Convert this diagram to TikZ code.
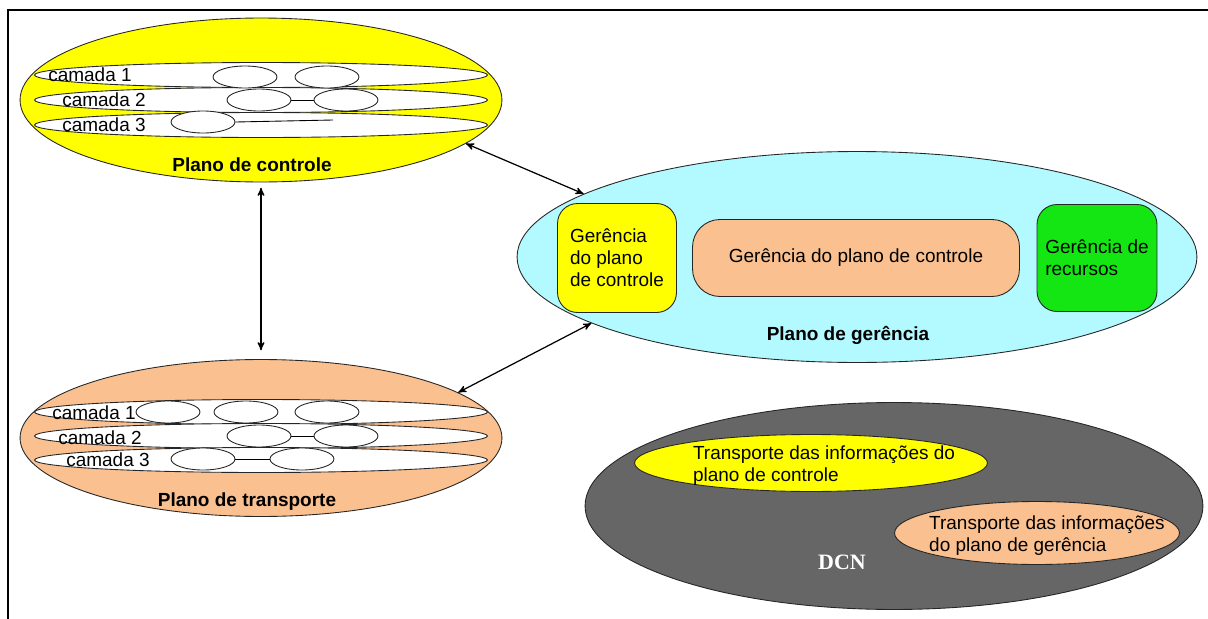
\documentclass[tikz,border=0pt]{standalone}
\usepackage{fontspec}
\setmainfont{Liberation Sans}
\newfontfamily\dcnfont{Liberation Serif}
\usepackage{tikz}
\usetikzlibrary{arrows,shapes,calc}
\usetikzlibrary{positioning}
\definecolor{ctrlyellow}{RGB}{255,255,0}
\definecolor{transorange}{RGB}{250,192,143}
\definecolor{mgmtcyan}{RGB}{178,250,255}
\definecolor{resgreen}{RGB}{20,230,20}
\definecolor{dcngray}{RGB}{102,102,102}
\tikzset{
    plane/.style={
           ellipse,
           draw=black!85, line width=0.5pt,
           inner sep=0pt,
           },
    layer/.style={
           ellipse,
           draw=black!85, line width=0.5pt,
           fill=white,
           inner sep=0pt,
           minimum width=9.06cm,
           minimum height=0.5cm,
           },
    elem/.style={
           ellipse,
           draw=black!85, line width=0.5pt,
           fill=white,
           inner sep=0pt,
           minimum width=1.28cm,
           minimum height=0.44cm,
           },
    mbox/.style={
           rectangle,
           draw=black!85, line width=0.5pt,
           inner sep=0pt,
           align=left,
           },
    lbl/.style={
           anchor=west,
           inner sep=0pt,
           },
    title/.style={
           font=\fontsize{10.8}{12.6}\selectfont\bfseries,
           inner sep=0pt,
           },
    pil/.style={
           <->,
           line width=0.7pt,}
}

\begin{document}
\begin{tikzpicture}[x=0.02cm,y=-0.02cm,>=stealth',
    every node/.append style={font=\fontsize{10.8}{12.6}\selectfont}]
\useasboundingbox (0,0) rectangle (1208,619);
% FRAME
\draw[line width=1.6pt] (8,619) -- (8,10) -- (1208,10);
% Position of control plane (CONTROL)
\node[plane,
fill = ctrlyellow,
minimum width = 9.64cm,
minimum height = 3.28cm] (CONTROL) at (261,100) {};
\node[layer] (CL1) at (261,75) {};
\node[layer] (CL2) at (261,100) {};
\node[layer] (CL3) at (261,125) {};
\node[lbl] (CT1) at (48,75) {camada 1};
\node[lbl] (CT2) at (62,100) {camada 2};
\node[lbl] (CT3) at (62,125) {camada 3};
\node[elem] (C11) at (245,77) {};
\node[elem, right of = C11, node distance = 1.64cm] (C12) {};
\node[elem] (C21) at (259,100) {};
\node[elem, right of = C21, node distance = 1.74cm] (C22) {};
\node[elem] (C31) at (203,122) {};
\coordinate (C3END) at (333,120);
\draw[line width=0.5pt] (C21) -- (C22);
\draw[line width=0.5pt] (C31.east) -- (C3END);
\node[title] (CTITLE) at (252,165) {Plano de controle};
% Position of transport plane (TRANSPORT)
\node[plane,
fill = transorange,
minimum width = 9.64cm,
minimum height = 3.14cm] (TRANSPORT) at (261,438) {};
\node[layer] (TL1) at (261,412) {};
\node[layer] (TL2) at (261,436) {};
\node[layer] (TL3) at (261,460) {};
\node[lbl] (TT1) at (52,413) {camada 1};
\node[lbl] (TT2) at (58,438) {camada 2};
\node[lbl] (TT3) at (66,460) {camada 3};
\node[elem] (T11) at (168,412) {};
\node[elem, right of = T11, node distance = 1.56cm] (T12) {};
\node[elem, right of = T12, node distance = 1.62cm] (T13) {};
\node[elem] (T21) at (259,436) {};
\node[elem, right of = T21, node distance = 1.74cm] (T22) {};
\node[elem] (T31) at (203,459) {};
\node[elem, right of = T31, node distance = 1.98cm] (T32) {};
\draw[line width=0.5pt] (T21) -- (T22);
\draw[line width=0.5pt] (T31) -- (T32);
\node[title] (TTITLE) at (247,502) {Plano de transporte};
% Position of management plane (MGMT)
\node[plane,
fill = mgmtcyan,
minimum width = 13.6cm,
minimum height = 4.22cm] (MGMT) at (857,257) {};
\node[mbox,
fill = ctrlyellow,
rounded corners = 0.4cm,
minimum width = 2.38cm,
minimum height = 2.18cm] (GCTRL) at (617,258)
{Gerência\\do plano\\de controle};
\node[mbox,
fill = transorange,
rounded corners = 0.55cm,
minimum width = 6.54cm,
minimum height = 1.54cm] (GPLANO) at (856,258)
{Gerência do plano de controle};
\node[mbox,
fill = resgreen,
rounded corners = 0.4cm,
minimum width = 2.4cm,
minimum height = 2.14cm] (GREC) at (1097,258)
{Gerência de\\recursos};
\node[title] (MTITLE) at (848,335) {Plano de gerência};
% Position of DCN (DCN)
\node[plane,
fill = dcngray,
minimum width = 12.36cm,
minimum height = 4.14cm] (DCN) at (894,506) {};
\node[plane,
fill = ctrlyellow,
minimum width = 7.06cm,
minimum height = 1.14cm] (DCTRL) at (811,463) {};
\node[align=left, inner sep=0pt] (DCTRLTXT) at (824,466)
{Transporte das informações do\\plano de controle};
\node[plane,
fill = transorange,
minimum width = 5.7cm,
minimum height = 1.26cm] (DMGMT) at (1037,533) {};
\node[align=left, inner sep=0pt] (DMGMTTXT) at (1047,536)
{Transporte das informações\\do plano de gerência};
\node[text=white, font=\fontsize{12.5}{14}\selectfont\dcnfont\bfseries] (DCNTXT) at (842,562) {DCN};
% Draw arrows between planes
\draw[pil] (CONTROL.-12) -- (MGMT.167);
\draw[pil] (TRANSPORT.13) -- (MGMT.194);
\draw[pil, shorten <=3pt, shorten >=5pt] (CONTROL.south) -- (TRANSPORT.north);
\end{tikzpicture}
\end{document}
